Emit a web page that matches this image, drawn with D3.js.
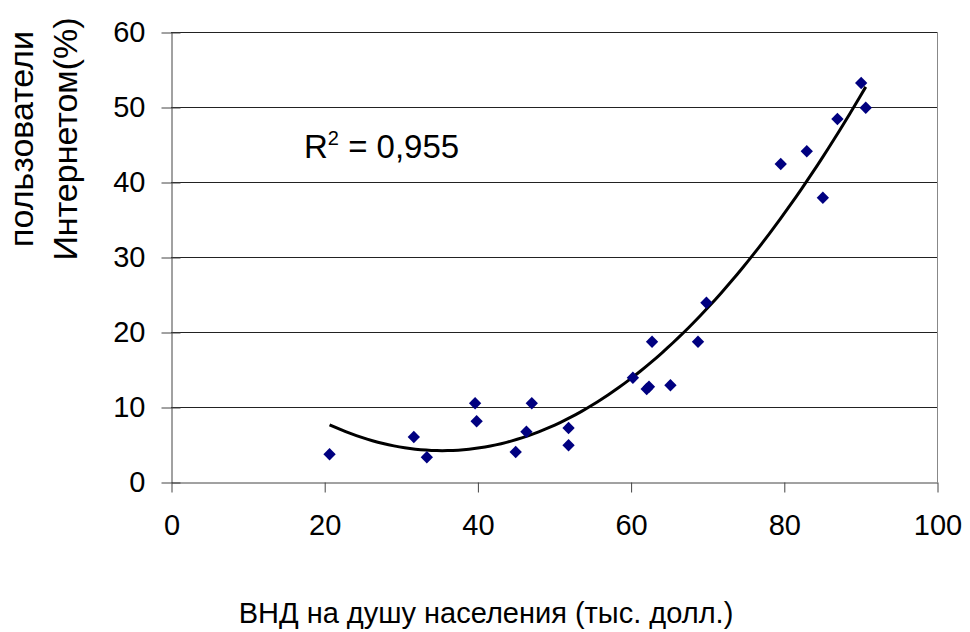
<!DOCTYPE html>
<html>
<head>
<meta charset="utf-8">
<script src="https://cdn.jsdelivr.net/npm/d3@7"></script>
<style>
  body { margin: 0; background: #fff; }
  text { font-family: "Liberation Sans", Arial, sans-serif; fill: #000; }
</style>
</head>
<body>
<div id="vis"></div>
<script>
// GNI per capita (thousand $) vs internet users (%)
var gni = [20.7, 31.7, 33.4, 39.7, 39.9, 45.0, 46.4, 47.1, 51.9, 51.9,
  60.3, 62.1, 62.4, 62.8, 65.2, 68.8, 69.9, 79.6, 83.0, 85.1, 87.0, 90.1, 90.7];
var users = [3.7, 6.0, 3.3, 10.5, 8.1, 4.0, 6.7, 10.5, 7.2, 4.9,
  13.9, 12.4, 12.7, 18.7, 12.9, 18.7, 23.9, 42.4, 44.1, 37.9, 48.4, 53.2, 49.9];
var xTicks = [0, 20, 40, 60, 80, 100];
var yTicks = [0, 10, 20, 30, 40, 50, 60];
var r2Label = '0,955';

var width = 970;
var height = 632;
var margin = { top: 32, right: 33, bottom: 150, left: 171 };
var plotW = width - margin.left - margin.right;
var plotH = height - margin.top - margin.bottom;

var points = gni.map(function (g, i) { return { x: g, y: users[i] }; });

// second order polynomial least squares fit (Excel trendline)
function polyFit(pts) {
  var n = pts.length, sx = 0, sx2 = 0, sx3 = 0, sx4 = 0, sy = 0, sxy = 0, sx2y = 0;
  pts.forEach(function (p) {
    var x = p.x, y = p.y;
    sx += x; sx2 += x * x; sx3 += x * x * x; sx4 += x * x * x * x;
    sy += y; sxy += x * y; sx2y += x * x * y;
  });
  var m = [[n, sx, sx2, sy], [sx, sx2, sx3, sxy], [sx2, sx3, sx4, sx2y]];
  for (var i = 0; i < 3; i++) {
    for (var k = i + 1; k < 3; k++) {
      var f = m[k][i] / m[i][i];
      for (var j = i; j < 4; j++) m[k][j] -= f * m[i][j];
    }
  }
  var c = [0, 0, 0];
  for (var i2 = 2; i2 >= 0; i2--) {
    var s = m[i2][3];
    for (var j2 = i2 + 1; j2 < 3; j2++) s -= m[i2][j2] * c[j2];
    c[i2] = s / m[i2][i2];
  }
  return function (x) { return c[0] + c[1] * x + c[2] * x * x; };
}

var fit = polyFit(points);
var xMin = d3.min(gni), xMax = d3.max(gni);
var curve = d3.range(0, 101).map(function (i) {
  var x = xMin + (xMax - xMin) * i / 100;
  return { x: x, y: fit(x) };
});

var svg = d3.select('#vis').append('svg')
  .attr('width', width)
  .attr('height', height);

var g = svg.append('g')
  .attr('transform', 'translate(' + margin.left + ',' + margin.top + ')');

var x = d3.scaleLinear().domain([0, 100]).range([0, plotW]);
var y = d3.scaleLinear().domain([0, 60]).range([plotH, 0]);

// gridlines
g.selectAll('.grid')
  .data(yTicks.slice(1))
  .enter().append('line')
  .attr('x1', 0).attr('x2', plotW)
  .attr('y1', function (d) { return y(d) + 0.5; })
  .attr('y2', function (d) { return y(d) + 0.5; })
  .attr('stroke', '#222')
  .attr('stroke-width', 1);

// right border
g.append('line')
  .attr('x1', plotW + 0.5).attr('x2', plotW + 0.5)
  .attr('y1', 0).attr('y2', plotH)
  .attr('stroke', '#888');

// y axis
var yAxis = g.append('g')
  .attr('transform', 'translate(0.5,0.5)')
  .call(d3.axisLeft(y).tickValues(yTicks).tickSizeInner(10).tickSizeOuter(0).tickPadding(16));
yAxis.select('.domain').attr('stroke', '#444');
yAxis.selectAll('.tick line').attr('stroke', '#444').attr('x2', 9).attr('x1', -10);
yAxis.selectAll('.tick text')
  .style('font-size', '29px')
  .attr('fill', '#000');

// x axis
var xAxis = g.append('g')
  .attr('transform', 'translate(0.5,' + (plotH + 0.5) + ')')
  .call(d3.axisBottom(x).tickValues(xTicks).tickSizeInner(10).tickSizeOuter(0).tickPadding(22));
xAxis.select('.domain').attr('stroke', '#444');
xAxis.selectAll('.tick line').attr('stroke', '#444');
xAxis.selectAll('.tick text')
  .style('font-size', '29px')
  .attr('fill', '#000');

// trend line
g.append('path')
  .datum(curve)
  .attr('fill', 'none')
  .attr('stroke', '#000')
  .attr('stroke-width', 3)
  .attr('d', d3.line()
    .x(function (d) { return x(d.x); })
    .y(function (d) { return y(d.y); }));

// points
g.selectAll('.pt')
  .data(points)
  .enter().append('path')
  .attr('class', 'pt')
  .attr('d', d3.symbol().type(d3.symbolSquare).size(76))
  .attr('transform', function (d) {
    return 'translate(' + x(d.x) + ',' + y(d.y) + ') rotate(45)';
  })
  .attr('fill', '#000080');

// R squared label
var r2 = svg.append('text')
  .attr('x', 304)
  .attr('y', 158)
  .style('font-size', '33px');
r2.append('tspan').text('R');
r2.append('tspan').attr('dy', -13).style('font-size', '20px').text('2');
r2.append('tspan').attr('dy', 13).text(' = ' + r2Label);

// axis titles
svg.append('text')
  .attr('x', 486)
  .attr('y', 623)
  .attr('text-anchor', 'middle')
  .style('font-size', '29px')
  .text('ВНД на душу населения (тыс. долл.)');

var yTitle = svg.append('text')
  .attr('transform', 'translate(0,139) rotate(-90)')
  .attr('text-anchor', 'middle')
  .style('font-size', '34px');
yTitle.append('tspan').attr('x', 0).attr('y', 33).text('пользователи');
yTitle.append('tspan').attr('x', 0).attr('y', 77).text('Интернетом(%)');
</script>
</body>
</html>
